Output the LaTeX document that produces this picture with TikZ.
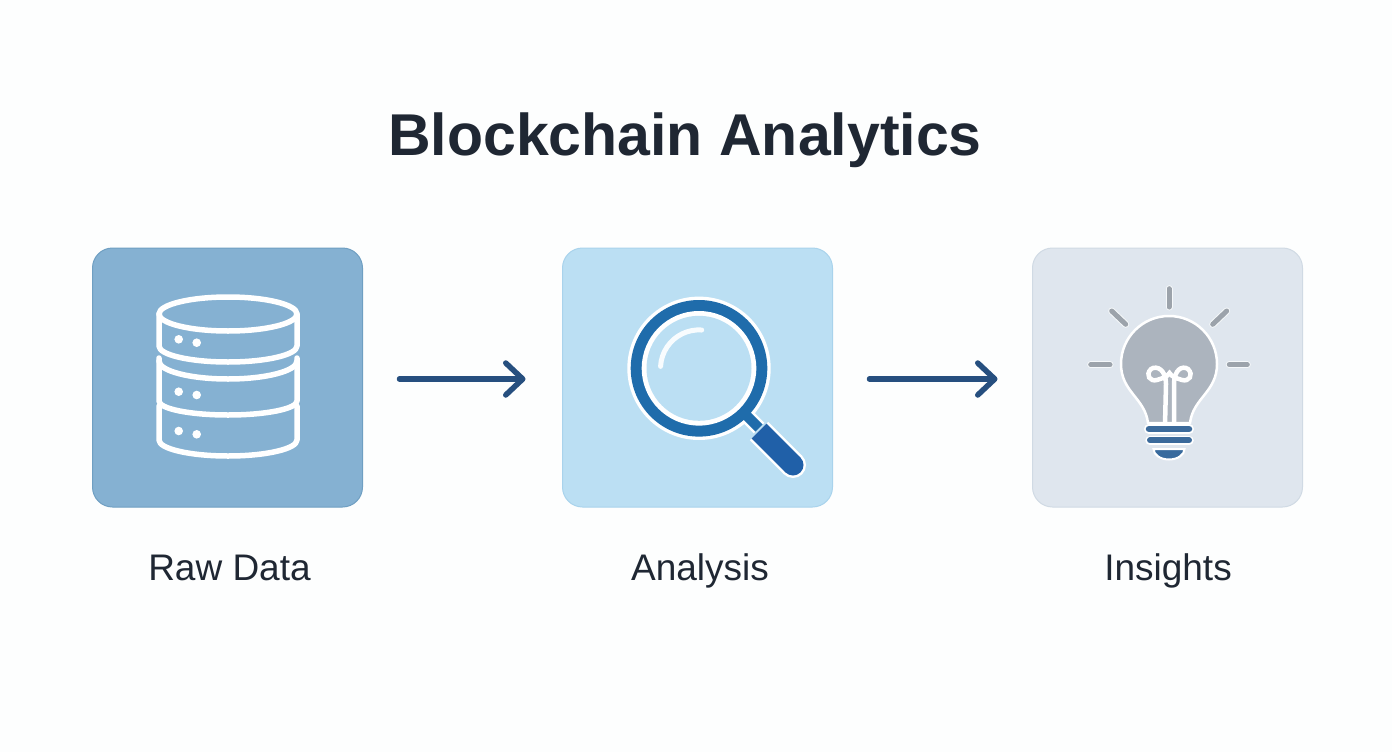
\documentclass[tikz,border=0pt]{standalone}
\usepackage{fontspec}
\setmainfont{Liberation Sans}
\usetikzlibrary{positioning}
\usetikzlibrary{arrows.meta}
\definecolor{page}{HTML}{FDFEFE}
\definecolor{ink}{HTML}{1F2733}
\definecolor{flowblue}{HTML}{264F7F}
\definecolor{rawfill}{HTML}{85B1D2}
\definecolor{rawedge}{HTML}{6F9FC2}
\definecolor{anafill}{HTML}{BBDFF3}
\definecolor{anaedge}{HTML}{A9D3EC}
\definecolor{insfill}{HTML}{DFE6EE}
\definecolor{insedge}{HTML}{D0DAE4}
\definecolor{ringblue}{HTML}{1F6CAB}
\definecolor{gripblue}{HTML}{2060A8}
\definecolor{bulbgrey}{HTML}{ACB4BE}
\definecolor{raygrey}{HTML}{9CA3AB}
\definecolor{capblue}{HTML}{3B6A9B}
\tikzstyle{panel} = [rectangle,rounded corners=20pt,minimum width=270pt,
minimum height=259pt,inner sep=0pt,outer sep=0pt,line width=1pt, node distance=200pt]
\tikzstyle{caption} = [font=\fontsize{37}{37}\selectfont, text=ink, text height=26pt,
text depth=8pt, inner sep=0pt, node distance=47pt]
\tikzstyle{heading} = [font=\fontsize{59}{59}\selectfont\bfseries, text=ink]
\tikzstyle{flow} = [draw=flowblue, line width=5.5pt, line cap=round, shorten <=37pt, shorten >=37pt]
\tikzstyle{stack} = [draw=white, line width=5.5pt, line cap=round, line join=round]
\tikzstyle{dot} = [fill=white, draw=none]
\tikzstyle{ray} = [line cap=round]
\tikzset{>={Straight Barb[length=17pt,width=32pt,round]}}
\newcommand{\flowedge}[3][]{ %
  \path ([yshift=-1.5pt]#2.east) edge [->,flow,#1] ([yshift=-1.5pt]#3.west) ;%
}
\begin{document}
\begin{tikzpicture}[x=1pt,y=-1pt]
  \useasboundingbox (0,0) rectangle (1392,752);
  \fill[page] (0,0) rectangle (1392,752);

  \node[heading] (title) at (685,140) {Blockchain Analytics};

  \node[panel, fill=rawfill, draw=rawedge] (raw) at (227.5,377.5) {};
  \node[panel, fill=anafill, draw=anaedge, right=of raw] (ana) {};
  \node[panel, fill=insfill, draw=insedge, right=of ana] (ins) {};

  \node[caption, below=of raw, xshift=2pt] (rawlabel) {Raw Data};
  \node[caption, below=of ana, xshift=2.5pt] (analabel) {Analysis};
  \node[caption, below=of ins, xshift=0.5pt] (inslabel) {Insights};

  \flowedge{raw}{ana};
  \flowedge[shorten >=35pt]{ana}{ins};

  % data stack
  \draw[stack] (228,314) ellipse (69 and 17);
  \draw[stack] (159,314) -- (159,346) arc (180:0:69 and 16) -- (297,314);
  \draw[stack] (159,358) -- (159,401) arc (180:0:69 and 14) -- (297,358);
  \draw[stack] (159,361) arc (180:0:69 and 18);
  \draw[stack] (159,406) -- (159,440) arc (180:0:69 and 16) -- (297,406);
  \foreach \x/\y in {178.7/339.3,196.7/342.7,178.7/391.7,196.7/395,178.7/431,196.7/434.3}
    \fill[dot] (\x,\y) circle (4.3);

  % magnifier
  \draw[white, line width=15pt] (746,415) -- (759,428);
  \draw[white, line width=26pt] (759,431) -- (793,465);
  \fill[white] (793,465) circle (13);
  \fill[white] (699,368.3) circle (71.7);
  \fill[ringblue] (699,368.3) circle (68.3);
  \fill[white] (699,368.3) circle (57.3);
  \fill[anafill] (699,368.3) circle (52.5);
  \draw[ringblue, line width=10pt] (746,415) -- (759,428);
  \draw[gripblue, line width=21pt] (759,431) -- (793,465);
  \fill[gripblue] (793,465) circle (10.5);
  \draw[white!90!anafill, line width=5pt, line cap=round] (701.7,330) arc (-86:-177:38.5);

  % bulb
  \foreach \a/\b/\c/\d in {1169/288.7/1169/307,1111.7/311/1125.7/324.3,1226.7/311/1212.7/324.3,
    1090.7/364.7/1110/364.7,1229.3/364.7/1247.3/364.7} {
    \draw[ray, white!70!insfill, line width=7pt] (\a,\b) -- (\c,\d);
    \draw[ray, raygrey, line width=5pt] (\a,\b) -- (\c,\d);
  }
  \draw[white, line width=2.5pt, fill=bulbgrey] (1148,423) .. controls (1145,398) and (1121,392) .. (1121,364)
    arc (180:0:48 and -48) .. controls (1217,392) and (1193,398) .. (1190,423) -- cycle;
  \draw[white, line width=4.5pt] (1165,425) -- (1166,384) .. controls (1166,370) and (1157,365) .. (1151,369)
    .. controls (1145,375) and (1150,382) .. (1157,380) .. controls (1163,378) and (1167,377) .. (1169.5,373)
    .. controls (1172,377) and (1176,378) .. (1182,380) .. controls (1189,382) and (1194,375) .. (1188,369)
    .. controls (1182,365) and (1174,370) .. (1174,384) -- (1174,425);
  \draw[white, line width=2pt, fill=capblue!90!ringblue] (1153.5,449) arc (180:0:15.5 and 10.5) -- cycle;
  \draw[white, line width=10pt, line cap=round] (1149,429) -- (1189,429);
  \draw[capblue, line width=6.5pt, line cap=round] (1149,429) -- (1189,429);
  \draw[white, line width=9.5pt, line cap=round] (1150,440.3) -- (1189,440.3);
  \draw[capblue, line width=6pt, line cap=round] (1150,440.3) -- (1189,440.3);
\end{tikzpicture}
\end{document}
